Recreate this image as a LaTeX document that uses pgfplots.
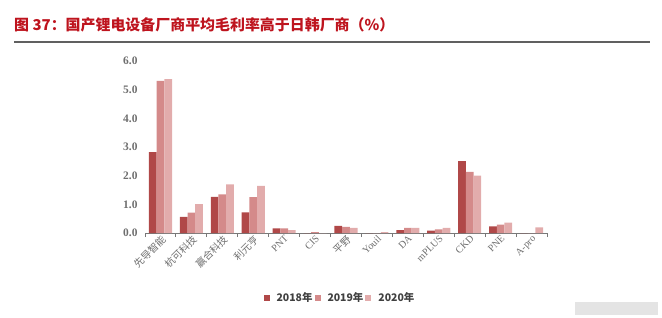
\documentclass[border=0pt]{standalone}
\usepackage{pgfplots}
\pgfplotsset{compat=1.18}
\usepackage{pgfplotstable}
\usepackage{fontspec}
\setmainfont{Liberation Serif}
\newfontfamily\cjk{Noto Sans CJK SC}
\definecolor{titlered}{RGB}{190,20,30}
\definecolor{cA}{RGB}{176,72,72}
\definecolor{cB}{RGB}{212,138,138}
\definecolor{cC}{RGB}{226,172,172}
\definecolor{lblgray}{RGB}{110,110,110}
\definecolor{axgray}{RGB}{120,120,120}
\pgfplotsset{sqleg/.style={legend image code/.code={\fill[##1] (0bp,-3bp) rectangle (6bp,3bp);}}}
\pgfplotstableread{
x a b c
0 2.82 5.31 5.37
1 0.56 0.71 1.01
2 1.26 1.35 1.70
3 0.72 1.25 1.64
4 0.16 0.16 0.10
5 0 0.03 0
6 0.25 0.21 0.18
7 0 0 0.03
8 0.10 0.18 0.18
9 0.08 0.13 0.18
10 2.51 2.13 2.00
11 0.23 0.29 0.36
12 0 0 0.20
}\data
\begin{document}
\begin{tikzpicture}
\path[use as bounding box] (0bp,0bp) rectangle (662bp,318bp);
\node[anchor=west, inner sep=0pt, text=titlered, font=\cjk\bfseries\fontsize{15}{17}\selectfont] at (14bp,293bp) {图~37：国产锂电设备厂商平均毛利率高于日韩厂商（\%）};
\draw[line width=1.5bp, color=axgray!80!black] (14bp,276bp) -- (650bp,276bp);
\fill[color={rgb,255:red,228;green,228;blue,228}] (575bp,3bp) rectangle (658bp,16bp);
\begin{axis}[
  at={(145bp,85bp)}, anchor=south west,
  scale only axis, width=402bp, height=172bp,
  xmin=-0.5, xmax=12.5, ymin=0, ymax=6,
  enlargelimits=false, clip=false,
  ybar=0pt, bar width=7.7bp,
  axis x line*=bottom, axis y line*=left,
  y axis line style={draw=none},
  x axis line style={color=axgray, line width=0.9bp},
  xtick={0,...,12},
  xticklabels={{\cjk 先导智能},{\cjk 杭可科技},{\cjk 赢合科技},{\cjk 利元亨},PNT,CIS,{\cjk 平野},Youil,DA,mPLUS,CKD,PNE,A-pro},
  minor xtick={-0.5,0.5,...,12.5},
  major tick length=0pt, minor tick length=4bp,
  tick align=outside,
  every tick/.style={color=axgray, line width=0.9bp},
  xticklabel style={rotate=45, anchor=north east, text=lblgray, font=\fontsize{10}{10}\selectfont, inner sep=1pt},
  ytick={0,1,...,6},
  /pgf/number format/.cd, fixed, fixed zerofill, precision=1, assume math mode=true,
  /pgfplots/.cd,
  yticklabel style={text=lblgray, font=\bfseries\fontsize{11.5}{12}\selectfont, xshift=-4bp},
  legend style={at={(0.485,-0.378)}, anchor=center, draw=none, fill=none,
    legend columns=3, font=\cjk\bfseries\fontsize{10.5}{11}\selectfont, text=black!75,
    /tikz/every odd column/.append style={column sep=5bp}, inner sep=0pt},
]
\addplot[fill=cA, draw=none, sqleg] table[x=x, y=a] {\data};
\addplot[fill=cB, draw=none, sqleg] table[x=x, y=b] {\data};
\addplot[fill=cC, draw=none, sqleg] table[x=x, y=c] {\data};
\legend{2018年,2019年,2020年}
\end{axis}
\end{tikzpicture}
\end{document}
